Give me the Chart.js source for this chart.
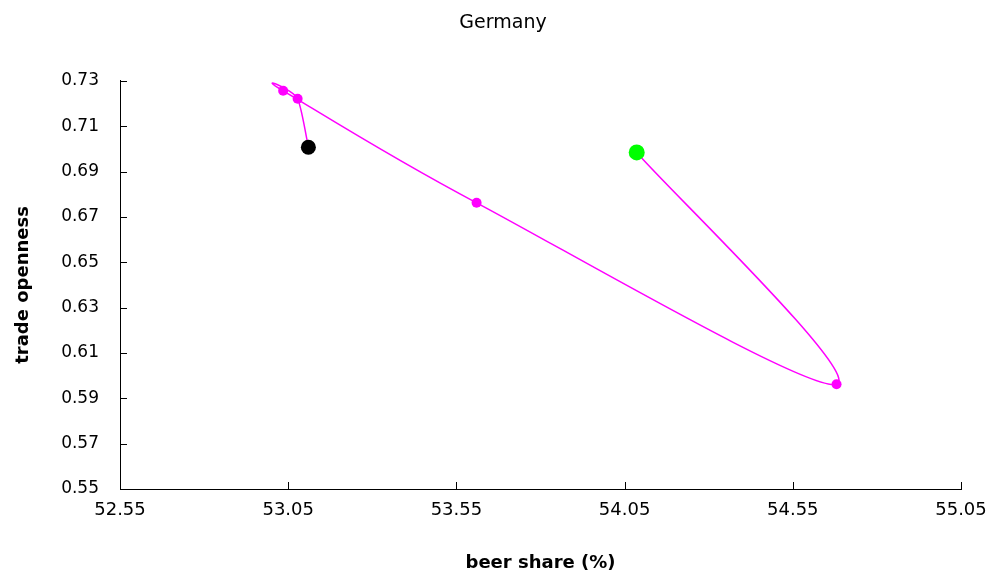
<!DOCTYPE html>
<html>
<head>
<meta charset="utf-8">
<title>Germany</title>
<script src="https://cdn.jsdelivr.net/npm/chart.js@4.4.1/dist/chart.umd.min.js"></script>
<style>
  body { margin: 0; background: #fff; }
  #wrap { width: 992px; height: 578px; }
</style>
</head>
<body>
<div id="wrap"><canvas id="grafico" width="992" height="578"></canvas></div>
<script>
// dados (ano a ano, do ponto verde ao preto)
const beerShare = [54.086, 54.680, 53.610, 53.035, 53.078, 53.110]
const tradeOpenness = [0.6984, 0.5962, 0.6762, 0.7256, 0.7221, 0.7007]

const xTicks = [52.55, 53.05, 53.55, 54.05, 54.55, 55.05]
const yTicks = [0.55, 0.57, 0.59, 0.61, 0.63, 0.65, 0.67, 0.69, 0.71, 0.73]

const pontos = beerShare.map((x, i) => ({ x: x, y: tradeOpenness[i] }))
const ultimo = pontos.length - 1

const fonte = "'DejaVu Sans', sans-serif"

// suavizacao igual ao Excel (Catmull-Rom, 1/6)
const suavizar = {
  id: 'suavizar',
  beforeDatasetDraw(chart, args) {
    const meta = args.meta
    const pts = meta.data
    for (let i = 0; i < pts.length; i++) {
      const p = pts[i]
      const ant = pts[Math.max(i - 1, 0)]
      const prox = pts[Math.min(i + 1, pts.length - 1)]
      p.cp1x = p.x - (prox.x - ant.x) / 6
      p.cp1y = p.y - (prox.y - ant.y) / 6
      p.cp2x = p.x + (prox.x - ant.x) / 6
      p.cp2y = p.y + (prox.y - ant.y) / 6
    }
    meta.dataset._pointsUpdated = true
  }
}

// tracinhos dos eixos virados para dentro
const tracinhos = {
  id: 'tracinhos',
  afterDraw(chart) {
    const ctx = chart.ctx
    const sx = chart.scales.x
    const sy = chart.scales.y
    const area = chart.chartArea
    ctx.save()
    ctx.strokeStyle = '#000'
    ctx.lineWidth = 1
    ctx.beginPath()
    sy.ticks.forEach(t => {
      const py = Math.round(sy.getPixelForValue(t.value)) + 0.5
      ctx.moveTo(area.left, py)
      ctx.lineTo(area.left + 7, py)
    })
    sx.ticks.forEach(t => {
      const px = Math.round(sx.getPixelForValue(t.value)) + 0.5
      ctx.moveTo(px, area.bottom)
      ctx.lineTo(px, area.bottom - 7)
    })
    ctx.stroke()
    ctx.restore()
  }
}

const ctx = document.getElementById('grafico').getContext('2d')
new Chart(ctx, {
  type: 'scatter',
  data: {
    datasets: [{
      label: 'Germany',
      data: pontos,
      showLine: true,
      tension: 0.4,
      borderColor: '#ff00ff',
      borderWidth: 1.5,
      clip: false,
      pointRadius: pontos.map((p, i) => i === 0 ? 8 : (i === ultimo ? 7.5 : 5)),
      pointBackgroundColor: pontos.map((p, i) => i === 0 ? '#00ff00' : (i === ultimo ? '#000000' : '#ff00ff')),
      pointBorderWidth: 0,
      pointHoverRadius: 0
    }]
  },
  options: {
    responsive: false,
    animation: false,
    layout: { padding: { left: 14, right: 0, top: 0, bottom: 0 } },
    plugins: {
      legend: { display: false },
      tooltip: { enabled: false },
      title: {
        display: true,
        text: 'Germany',
        color: '#000',
        font: { family: fonte, size: 19, weight: 'normal', lineHeight: 1.2 },
        padding: { top: 12, bottom: 46 }
      }
    },
    scales: {
      x: {
        type: 'linear',
        min: 52.55,
        max: 55.05,
        afterBuildTicks: s => { s.ticks = xTicks.map(v => ({ value: v })) },
        afterFit: s => { s.height = 89; s.paddingLeft = 0; s.paddingRight = 0 },
        grid: { display: false, drawTicks: false },
        border: { display: true, color: '#000', width: 1 },
        ticks: {
          color: '#000',
          padding: 11,
          font: { family: fonte, size: 18 },
          callback: v => Number(v).toFixed(2)
        },
        title: {
          display: true,
          text: 'beer share (%)',
          color: '#000',
          font: { family: fonte, size: 18, weight: 'bold', lineHeight: 1.2 },
          padding: { top: 0, bottom: 4 }
        }
      },
      y: {
        type: 'linear',
        min: 0.55,
        max: 0.73,
        afterBuildTicks: s => { s.ticks = yTicks.map(v => ({ value: v })) },
        afterFit: s => { s.width = 106; s.paddingTop = 0; s.paddingBottom = 0 },
        grid: { display: false, drawTicks: false },
        border: { display: true, color: '#000', width: 1 },
        ticks: {
          color: '#000',
          padding: 21,
          font: { family: fonte, size: 17 },
          callback: v => Number(v).toFixed(2)
        },
        title: {
          display: true,
          text: 'trade openness',
          color: '#000',
          font: { family: fonte, size: 18, weight: 'bold', lineHeight: 1 },
          padding: { top: 0, bottom: 0 }
        }
      },
      // eixo vazio so para dar a margem da direita
      y2: {
        type: 'linear',
        position: 'right',
        afterFit: s => { s.width = 31 },
        grid: { display: false, drawTicks: false },
        border: { display: false },
        ticks: { display: false }
      }
    }
  },
  plugins: [suavizar, tracinhos]
})
</script>
</body>
</html>
